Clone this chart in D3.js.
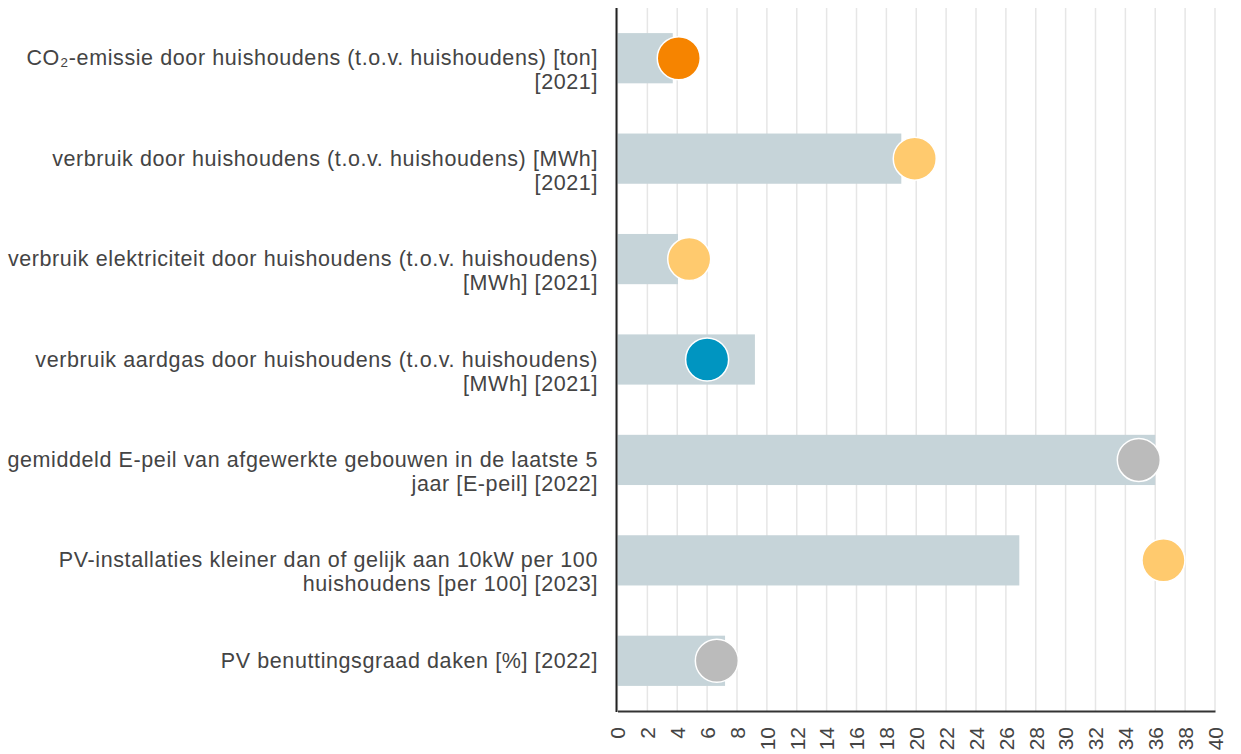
<!DOCTYPE html>
<html>
<head>
<meta charset="utf-8">
<script src="https://cdn.jsdelivr.net/npm/d3@7"></script>
<style>
  body { margin: 0; background: #fff; }
  svg { display: block; font-family: "Liberation Sans", Arial, sans-serif; }
</style>
</head>
<body>
<div id="chart"></div>
<script>
// label lines per category
const categories = [
    ["CO₂-emissie door huishoudens (t.o.v. huishoudens) [ton]", "[2021]"],
    ["verbruik door huishoudens (t.o.v. huishoudens) [MWh]", "[2021]"],
    ["verbruik elektriciteit door huishoudens (t.o.v. huishoudens)", "[MWh] [2021]"],
    ["verbruik aardgas door huishoudens (t.o.v. huishoudens)", "[MWh] [2021]"],
    ["gemiddeld E-peil van afgewerkte gebouwen in de laatste 5", "jaar [E-peil] [2022]"],
    ["PV-installaties kleiner dan of gelijk aan 10kW per 100", "huishoudens [per 100] [2023]"],
    ["PV benuttingsgraad daken [%] [2022]"]
];
const barValues = [3.7, 19.0, 4.05, 9.2, 36.0, 26.9, 7.2];
const dotValues = [4.1, 19.9, 4.8, 6.0, 34.9, 36.55, 6.65];
const dotColors = ["#f68400", "#ffca6e", "#ffca6e", "#0095c1", "#bbbbbb", "#ffca6e", "#bbbbbb"];
const xTicks = d3.range(0, 41, 2);

const width = 1241;
const height = 754;
const plotLeft = 617.5, plotRight = 1215, plotTop = 8, plotBottom = 711;

const svg = d3.select("#chart")
    .append("svg")
    .attr("width", width)
    .attr("height", height);

const xScale = d3.scaleLinear().domain([0, 40]).range([plotLeft, plotRight]);
const yScale = d3.scaleBand()
    .domain(d3.range(categories.length))
    .range([plotTop, plotBottom])
    .paddingInner(0.5)
    .paddingOuter(0.25);

// grid lines
svg.append("g")
    .selectAll("line")
    .data(xTicks)
    .enter()
    .append("line")
    .attr("x1", d => xScale(d))
    .attr("x2", d => xScale(d))
    .attr("y1", plotTop)
    .attr("y2", plotBottom)
    .attr("stroke", "#e6e6e6")
    .attr("stroke-width", 1.5);

// bars
svg.append("g")
    .selectAll("rect")
    .data(barValues)
    .enter()
    .append("rect")
    .attr("x", xScale(0))
    .attr("y", (d, i) => yScale(i))
    .attr("width", d => xScale(d) - xScale(0))
    .attr("height", yScale.bandwidth())
    .attr("fill", "#c6d4d9");

// dots
svg.append("g")
    .selectAll("circle")
    .data(dotValues)
    .enter()
    .append("circle")
    .attr("cx", d => xScale(d))
    .attr("cy", (d, i) => yScale(i) + yScale.bandwidth() / 2)
    .attr("r", 21.5)
    .attr("fill", (d, i) => dotColors[i])
    .attr("stroke", "#fff")
    .attr("stroke-width", 1.5);

// x axis (bottom)
const xAxis = d3.axisBottom(xScale).tickValues(xTicks).tickSize(0).tickPadding(0);
const xg = svg.append("g")
    .attr("transform", "translate(0," + plotBottom + ")")
    .call(xAxis);
xg.select(".domain").attr("stroke", "#333").attr("stroke-width", 2);
xg.selectAll("text")
    .attr("transform", "translate(0,16) rotate(-90)")
    .attr("x", 0)
    .attr("y", 0)
    .attr("dy", "0.35em")
    .attr("text-anchor", "end")
    .attr("fill", "#444")
    .style("font-family", "Liberation Sans, Arial, sans-serif")
    .style("font-size", "21px");

// y axis (left line)
svg.append("line")
    .attr("x1", plotLeft - 1)
    .attr("x2", plotLeft - 1)
    .attr("y1", plotTop)
    .attr("y2", plotBottom + 1)
    .attr("stroke", "#222")
    .attr("stroke-width", 2);

// category labels
const labels = svg.append("g")
    .selectAll("text")
    .data(categories)
    .enter()
    .append("text")
    .attr("text-anchor", "end")
    .attr("fill", "#444")
    .style("font-size", "21.5px")
    .style("letter-spacing", "0.6px")
    .attr("y", (d, i) => yScale(i) + yScale.bandwidth() / 2 + 7);

labels.selectAll("tspan")
    .data(d => d)
    .enter()
    .append("tspan")
    .attr("x", 598)
    .attr("dy", (d, i) => i === 0 ? 0 : 24)
    .text(d => d);
</script>
</body>
</html>
